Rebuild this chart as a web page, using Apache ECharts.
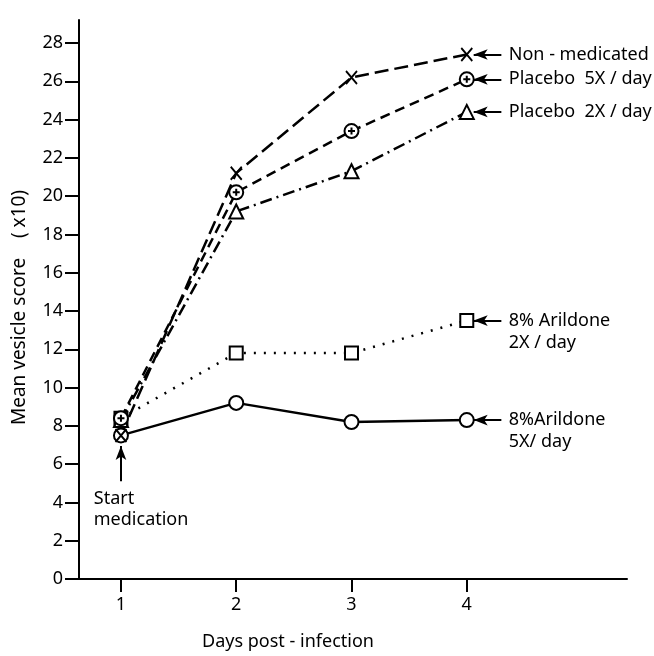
<!DOCTYPE html>
<html>
<head>
<meta charset="utf-8">
<script src="https://cdn.jsdelivr.net/npm/echarts@6/dist/echarts.min.js"></script>
<style>
html, body { margin: 0; padding: 0; background: #fff; }
#chart { width: 654px; height: 656px; }
</style>
</head>
<body>
<div id="chart"></div>
<script>
// days after infection
const days = [1, 2, 3, 4];
const xTicks = [1, 2, 3, 4];
const yTicks = [0, 2, 4, 6, 8, 10, 12, 14, 16, 18, 20, 22, 24, 26, 28];

// mean vesicle score (x10)
const nonMedicated = [7.5, 21.2, 26.2, 27.4];
const placebo5x = [8.4, 20.2, 23.4, 26.1];
const placebo2x = [8.3, 19.2, 21.3, 24.4];
const arildone2x = [8.4, 11.8, 11.8, 13.5];
const arildone5x = [7.5, 9.2, 8.2, 8.3];

const labels = {
  non: "Non - medicated",
  p5: "Placebo  5X / day",
  p2: "Placebo  2X / day",
  a2: "8% Arildone\n2X / day",
  a5: "8%Arildone\n5X/ day"
};

const FONT = "Noto Sans";
const FS = 18;
const symX = "path://M0,0L10,12M10,0L0,12";
const symCirclePlus = "path://M10,0A10,10 0 1 1 10,20A10,10 0 1 1 10,0Z M10,5L10,15M5,10L15,10";

function pairs(ys) {
  return days.map((d, i) => [d, ys[i]]);
}

function arrowTo(ys) {
  const v = ys[ys.length - 1];
  return {
    silent: true,
    symbol: ["none", "arrow"],
    symbolSize: [8, 14],
    label: { show: false },
    lineStyle: { type: "solid", color: "#000", width: 2 },
    emphasis: { disabled: true },
    data: [[{ coord: [4.3, v] }, { coord: [4.06, v] }]]
  };
}

function makeSeries(name, ys, symbol, size, dash, text, twoLine) {
  return {
    name: name,
    type: "line",
    data: pairs(ys),
    symbol: symbol,
    symbolSize: size,
    showAllSymbol: true,
    itemStyle: { color: "#fff", borderColor: "#000", borderWidth: 2 },
    lineStyle: { color: "#000", width: 2.5, type: dash, cap: "butt" },
    endLabel: {
      show: true,
      formatter: text,
      distance: 42,
      color: "#000",
      fontFamily: FONT,
      fontSize: FS,
      lineHeight: 22,
      offset: twoLine ? [0, 11] : [0, 0]
    },
    markLine: arrowTo(ys),
    emphasis: { disabled: true },
    z: 2
  };
}

const chart = echarts.init(document.getElementById("chart"));

const series = [
  makeSeries("a2", arildone2x, "rect", 13, [2, 8], labels.a2, true),
  makeSeries("p2", placebo2x, "triangle", 14, [12, 5, 2, 5], labels.p2, false),
  makeSeries("p5", placebo5x, symCirclePlus, 14, [10, 6], labels.p5, false),
  makeSeries("a5", arildone5x, "circle", 14, "solid", labels.a5, true),
  makeSeries("non", nonMedicated, symX, [11, 13], [14, 6], labels.non, false)
];

// start-medication arrow and note
series[3].markLine.data.push([{ coord: [1, 5.1] }, { coord: [1, 6.95] }]);
series[3].markPoint = {
  silent: true,
  symbol: "circle",
  symbolSize: 1,
  itemStyle: { color: "rgba(0,0,0,0)" },
  label: {
    show: true,
    position: "right",
    distance: 0,
    formatter: "Start\nmedication",
    color: "#000",
    fontFamily: FONT,
    fontSize: FS,
    lineHeight: 21
  },
  data: [{ coord: [0.76, 3.65] }]
};

const option = {
  animation: false,
  backgroundColor: "#fff",
  grid: { left: 79, right: 27, top: 20, bottom: 74, containLabel: false },
  xAxis: {
    type: "value",
    min: 0.636,
    max: 5.39,
    name: "Days post - infection",
    nameLocation: "middle",
    nameGap: 54,
    nameTextStyle: { color: "#000", fontFamily: FONT, fontSize: FS, padding: [0, 130, 0, 0] },
    axisLine: { onZero: false, lineStyle: { color: "#000", width: 2 } },
    axisTick: { show: true, length: 13, lineStyle: { color: "#000", width: 2 }, customValues: xTicks },
    axisLabel: { color: "#000", fontFamily: FONT, fontSize: FS, margin: 17, customValues: xTicks },
    splitLine: { show: false }
  },
  yAxis: {
    type: "value",
    min: 0,
    max: 29.2,
    name: "Mean vesicle score    ( x10)",
    nameLocation: "middle",
    nameRotate: 90,
    nameGap: 50,
    nameTextStyle: { color: "#000", fontFamily: FONT, fontSize: 19, padding: [0, 16, 0, 0] },
    axisLine: { show: true, lineStyle: { color: "#000", width: 2 } },
    axisTick: { show: true, length: 14, lineStyle: { color: "#000", width: 2 }, customValues: yTicks },
    axisLabel: { color: "#000", fontFamily: FONT, fontSize: FS, margin: 16, customValues: yTicks },
    splitLine: { show: false }
  },
  series: series
};

chart.setOption(option);
</script>
</body>
</html>
